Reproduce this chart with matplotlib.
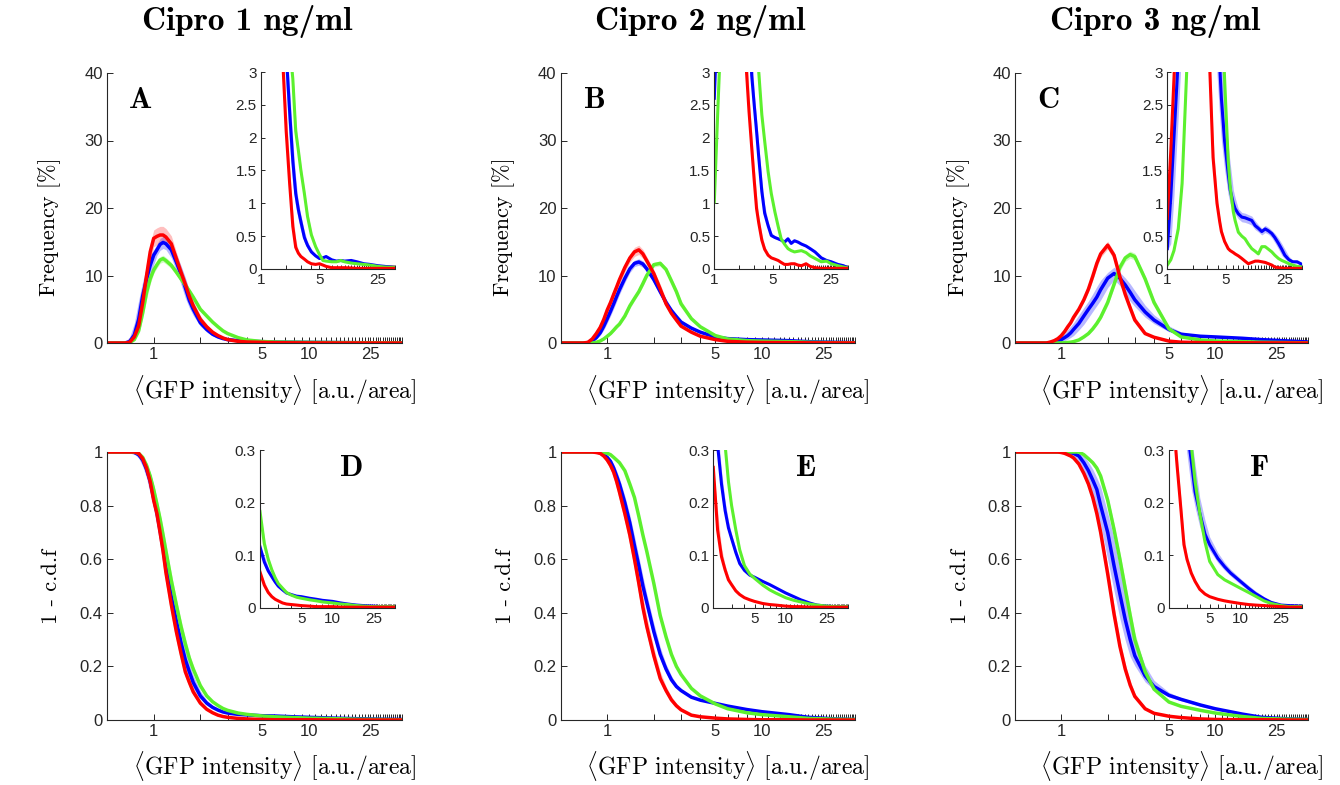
import numpy as np
import matplotlib
matplotlib.use("Agg")
import matplotlib.pyplot as plt
from matplotlib.ticker import NullLocator

plt.rcParams['mathtext.fontset'] = 'cm'
plt.rcParams['font.family'] = ['Liberation Sans', 'DejaVu Sans']

# ---------------- data ----------------
titles = ['Cipro 1 ng/ml', 'Cipro 2 ng/ml', 'Cipro 3 ng/ml']
letters = ['A', 'B', 'C', 'D', 'E', 'F']

# common x grid of the main panels (GFP intensity, a.u./area)
x_main = [0.5, 0.65, 0.7, 0.75, 0.8, 0.85, 0.9, 0.95, 1.0, 1.05, 1.1, 1.15, 1.2, 1.3, 1.4,
          1.5, 1.6, 1.7, 1.8, 2.0, 2.2, 2.4, 2.6, 2.8, 3.0, 3.5, 4, 5, 6, 8, 10, 15, 20, 30, 40]

# frequency [%] - order: blue, green, red
freq_A_blue = [0, 0, 0.2, 1.2, 3.5, 7, 9.5, 11.5, 13, 13.8, 14.6, 14.9, 14.7, 13.8, 12, 10.2, 8.2,
               6.3, 5, 3.0, 2.0, 1.3, 0.9, 0.65, 0.5, 0.35, 0.25, 0.2, 0.15, 0.12, 0.1, 0.07, 0.05, 0.03, 0.02]
freq_A_green = [0, 0, 0.05, 0.5, 1.8, 4.5, 7.5, 9.5, 10.8, 11.6, 12.3, 12.5, 12.2, 11.5, 10.5, 9.5, 8.6,
                7.7, 6.8, 5.0, 4.0, 3.1, 2.4, 1.8, 1.4, 0.8, 0.45, 0.22, 0.15, 0.12, 0.1, 0.07, 0.05, 0.03, 0.02]
freq_A_red = [0, 0, 0.1, 0.9, 2.5, 6, 10, 13.5, 15.5, 15.8, 16, 16, 15.7, 14.7, 12.5, 10.5, 8.7,
              6.9, 5.5, 3.5, 2.4, 1.6, 1.1, 0.75, 0.5, 0.25, 0.15, 0.1, 0.05, 0.03, 0.02, 0.01, 0.01, 0, 0]

freq_B_blue = [0, 0, 0, 0.05, 0.3, 0.8, 1.5, 2.5, 3.6, 4.7, 5.8, 6.9, 7.9, 9.6, 11.0, 11.8, 12.0,
               11.7, 11.0, 9.4, 7.6, 6.0, 4.8, 3.9, 3.1, 2.2, 1.6, 0.9, 0.65, 0.5, 0.45, 0.35, 0.2, 0.1, 0.05]
freq_B_green = [0, 0, 0, 0, 0, 0.1, 0.3, 0.6, 1.0, 1.4, 1.9, 2.4, 2.8, 4.0, 5.5, 6.6, 7.6,
                8.8, 10.0, 11.6, 11.8, 10.9, 9.2, 7.6, 5.8, 3.6, 2.4, 1.1, 0.6, 0.35, 0.28, 0.2, 0.12, 0.06, 0.03]
freq_B_red = [0, 0, 0, 0.1, 0.6, 1.4, 2.3, 3.5, 4.9, 6.0, 7.2, 8.3, 9.4, 11.2, 12.6, 13.5, 13.8,
              13.2, 12.2, 10.3, 8.0, 5.8, 4.4, 3.4, 2.5, 1.6, 1.0, 0.5, 0.25, 0.12, 0.08, 0.05, 0.03, 0.02, 0.01]

freq_C_blue = [0, 0, 0, 0, 0, 0.05, 0.15, 0.3, 0.5, 0.8, 1.1, 1.5, 2.0, 2.9, 4.0, 5.0, 5.9,
               6.8, 7.9, 9.6, 10.3, 9.6, 8.6, 7.5, 6.4, 4.6, 3.4, 2.0, 1.3, 1.0, 0.9, 0.7, 0.5, 0.3, 0.15]
freq_C_green = [0, 0, 0, 0, 0, 0, 0, 0, 0.02, 0.05, 0.08, 0.12, 0.2, 0.45, 0.9, 1.4, 2.1,
                2.9, 3.8, 6.0, 8.7, 11.2, 12.6, 13.1, 12.8, 9.5, 6.0, 2.1, 0.9, 0.45, 0.3, 0.2, 0.12, 0.06, 0.03]
freq_C_red = [0, 0, 0, 0, 0, 0.15, 0.35, 0.65, 1.1, 1.7, 2.4, 3.0, 3.8, 5.0, 6.4, 8.0, 9.9,
              11.8, 13.2, 14.5, 13.0, 9.8, 7.2, 5.2, 3.4, 1.4, 0.85, 0.28, 0.12, 0.06, 0.04, 0.03, 0.02, 0.01, 0]

# 1 - c.d.f
ccdf_D_blue = [1, 1, 1, 0.998, 0.99, 0.97, 0.935, 0.89, 0.83, 0.775, 0.71, 0.645, 0.575, 0.46, 0.37,
               0.29, 0.225, 0.18, 0.14, 0.09, 0.063, 0.047, 0.037, 0.03, 0.026, 0.021, 0.019, 0.016,
               0.015, 0.012, 0.01, 0.007, 0.005, 0.003, 0.002]
ccdf_D_green = [1, 1, 1, 1, 0.995, 0.98, 0.95, 0.91, 0.86, 0.805, 0.75, 0.69, 0.63, 0.52, 0.43,
                0.35, 0.285, 0.23, 0.19, 0.128, 0.09, 0.068, 0.054, 0.043, 0.036, 0.026, 0.021, 0.015,
                0.012, 0.009, 0.007, 0.005, 0.003, 0.002, 0.001]
ccdf_D_red = [1, 1, 1, 1, 0.995, 0.975, 0.94, 0.89, 0.82, 0.77, 0.7, 0.63, 0.55, 0.43, 0.33,
              0.25, 0.18, 0.14, 0.105, 0.063, 0.04, 0.027, 0.018, 0.013, 0.01, 0.006, 0.004, 0.002,
              0.001, 0.001, 0.001, 0, 0, 0, 0]

ccdf_E_blue = [1, 1, 1, 1, 1, 1, 0.997, 0.99, 0.98, 0.965, 0.94, 0.91, 0.88, 0.81, 0.735,
               0.65, 0.575, 0.5, 0.44, 0.33, 0.245, 0.19, 0.15, 0.125, 0.11, 0.085, 0.074, 0.062,
               0.052, 0.039, 0.031, 0.02, 0.01, 0.004, 0.002]
ccdf_E_green = [1, 1, 1, 1, 1, 1, 1, 0.998, 0.995, 0.99, 0.98, 0.97, 0.96, 0.93, 0.88,
                0.83, 0.76, 0.69, 0.63, 0.51, 0.39, 0.31, 0.245, 0.2, 0.17, 0.118, 0.09, 0.06,
                0.042, 0.027, 0.02, 0.012, 0.006, 0.003, 0.002]
ccdf_E_red = [1, 1, 1, 1, 1, 0.998, 0.995, 0.985, 0.97, 0.95, 0.925, 0.89, 0.85, 0.77, 0.69,
              0.6, 0.51, 0.42, 0.35, 0.24, 0.155, 0.11, 0.075, 0.053, 0.038, 0.018, 0.012, 0.007,
              0.004, 0.002, 0.001, 0.001, 0, 0, 0]

ccdf_F_blue = [1, 1, 1, 1, 1, 1, 1, 1, 1, 1, 0.998, 0.997, 0.995, 0.985, 0.96,
               0.93, 0.895, 0.86, 0.8, 0.7, 0.575, 0.47, 0.375, 0.3, 0.24, 0.165, 0.125, 0.092,
               0.077, 0.056, 0.042, 0.022, 0.01, 0.004, 0.002]
ccdf_F_green = [1, 1, 1, 1, 1, 1, 1, 1, 1, 1, 1, 1, 1, 1, 0.99,
                0.975, 0.96, 0.94, 0.91, 0.82, 0.71, 0.6, 0.49, 0.39, 0.3, 0.18, 0.115, 0.067,
                0.051, 0.036, 0.026, 0.013, 0.006, 0.003, 0.002]
ccdf_F_red = [1, 1, 1, 1, 1, 1, 1, 1, 0.998, 0.995, 0.99, 0.985, 0.978, 0.955, 0.92,
              0.88, 0.83, 0.77, 0.7, 0.545, 0.395, 0.275, 0.19, 0.13, 0.088, 0.042, 0.025, 0.014,
              0.009, 0.004, 0.002, 0.001, 0.001, 0, 0]

# insets of the frequency panels (x from 1 to 40, y 0..3)
xin_A = [1, 1.5, 1.8, 2.0, 2.2, 2.4, 2.6, 2.8, 3.0, 3.3, 3.6, 4.0, 4.5, 5.0, 5.5, 6, 7, 8, 9, 10,
         12, 14, 17, 20, 25, 30, 35, 40]
inA_blue = [12, 7, 4.2, 3.3, 2.4, 1.65, 1.15, 0.9, 0.72, 0.48, 0.36, 0.26, 0.2, 0.16, 0.17, 0.19,
            0.14, 0.12, 0.13, 0.12, 0.13, 0.11, 0.08, 0.07, 0.05, 0.04, 0.03, 0.02]
inA_green = [11, 7.5, 5, 4.2, 3.4, 2.9, 2.1, 1.8, 1.5, 1.15, 0.8, 0.52, 0.34, 0.22, 0.13, 0.12,
             0.11, 0.11, 0.13, 0.11, 0.09, 0.08, 0.07, 0.06, 0.04, 0.03, 0.025, 0.02]
inA_red = [10, 6, 3.3, 2.1, 1.3, 0.65, 0.33, 0.24, 0.19, 0.15, 0.11, 0.08, 0.07, 0.08, 0.06, 0.04,
           0.02, 0.02, 0.02, 0.02, 0.015, 0.01, 0.01, 0.01, 0.01, 0.01, 0.01, 0.01]

xin_B = [1, 1.1, 1.2, 2.0, 2.4, 2.6, 2.8, 3.0, 3.2, 3.4, 3.7, 4.0, 4.4, 4.8, 5.3, 5.8, 6.3, 6.9,
         7.6, 8.3, 9.1, 10, 11, 12.5, 14, 16, 19, 22, 25, 30, 35, 40]
inB_blue = [2.6, 4, 5.5, 11, 6, 4, 2.95, 2.5, 2.1, 1.7, 1.18, 0.85, 0.66, 0.51, 0.48, 0.46, 0.44,
            0.41, 0.46, 0.39, 0.43, 0.41, 0.38, 0.35, 0.31, 0.26, 0.17, 0.13, 0.11, 0.07, 0.05, 0.015]
inB_green = [1.02, 2.4, 3.6, 12, 11, 9, 7, 5.5, 4, 3.0, 2.35, 1.95, 1.48, 1.15, 0.87, 0.65, 0.46,
             0.38, 0.31, 0.28, 0.26, 0.27, 0.28, 0.25, 0.2, 0.16, 0.11, 0.12, 0.08, 0.05, 0.03, 0.015]
inB_red = [4.5, 6.5, 8.5, 9, 3.1, 2.4, 1.85, 1.35, 0.92, 0.7, 0.44, 0.3, 0.21, 0.17, 0.15, 0.13,
           0.1, 0.07, 0.07, 0.08, 0.08, 0.06, 0.05, 0.08, 0.04, 0.02, 0.01, 0.01, 0.01, 0.01, 0.01, 0.01]

xin_C = [1, 1.1, 1.2, 1.35, 1.5, 1.7, 2.5, 3.2, 3.5, 3.9, 4.2, 4.4, 4.8, 5.3, 5.6, 6.1, 6.4, 7.0,
         7.7, 8.4, 9.2, 10.1, 11.1, 12.1, 13.3, 14.6, 16, 17.5, 19, 21, 23, 25, 28, 31, 35, 40]
inC_blue = [0.31, 1.1, 2.0, 3.2, 4.8, 7, 10, 8, 6, 4.2, 3.1, 2.6, 1.95, 1.45, 1.2, 1.0, 0.92, 0.84,
            0.79, 0.78, 0.76, 0.74, 0.66, 0.62, 0.57, 0.61, 0.58, 0.54, 0.48, 0.39, 0.3, 0.21, 0.14,
            0.11, 0.11, 0.07]
inC_green = [0.06, 0.14, 0.28, 0.61, 1.3, 3.0, 11, 12, 10, 7, 5, 4.2, 2.9, 1.65, 1.25, 0.87, 0.74,
             0.56, 0.5, 0.46, 0.38, 0.31, 0.27, 0.23, 0.34, 0.34, 0.3, 0.26, 0.21, 0.16, 0.13, 0.11,
             0.08, 0.06, 0.04, 0.03]
inC_red = [0.77, 1.8, 2.9, 4.5, 6.5, 11, 9, 3.05, 1.7, 1.0, 0.72, 0.57, 0.42, 0.31, 0.28, 0.25,
           0.23, 0.2, 0.16, 0.12, 0.08, 0.1, 0.12, 0.12, 0.11, 0.1, 0.08, 0.06, 0.03, 0.02, 0.015,
           0.01, 0.01, 0.01, 0.01, 0.01]

# insets of the 1 - c.d.f panels (x from 2 to 40, y 0..0.3)
xin_cdf = [2, 2.2, 2.4, 2.6, 2.8, 3.0, 3.3, 3.6, 4.0, 4.5, 5, 6, 7, 8, 10, 12, 14, 17, 20, 25, 30, 40]
inD_blue = [0.116, 0.087, 0.07, 0.059, 0.049, 0.041, 0.034, 0.028, 0.025, 0.022, 0.021, 0.018,
            0.016, 0.014, 0.012, 0.009, 0.007, 0.005, 0.004, 0.003, 0.002, 0.002]
inD_green = [0.183, 0.122, 0.092, 0.072, 0.057, 0.046, 0.037, 0.029, 0.024, 0.02, 0.018, 0.015,
             0.013, 0.011, 0.009, 0.007, 0.006, 0.004, 0.003, 0.002, 0.002, 0.002]
inD_red = [0.068, 0.043, 0.029, 0.021, 0.016, 0.013, 0.009, 0.007, 0.006, 0.005, 0.004, 0.003,
           0.002, 0.002, 0.002, 0.001, 0.001, 0.001, 0.001, 0.001, 0.001, 0.001]

inE_blue = [0.42, 0.31, 0.235, 0.185, 0.152, 0.132, 0.105, 0.084, 0.071, 0.062, 0.058, 0.05,
            0.044, 0.038, 0.028, 0.021, 0.015, 0.009, 0.005, 0.003, 0.002, 0.002]
inE_green = [0.6, 0.48, 0.38, 0.31, 0.24, 0.195, 0.148, 0.11, 0.08, 0.064, 0.056, 0.043,
             0.034, 0.028, 0.019, 0.014, 0.011, 0.007, 0.005, 0.003, 0.002, 0.002]
inE_red = [0.267, 0.148, 0.097, 0.072, 0.053, 0.044, 0.032, 0.025, 0.019, 0.015, 0.012, 0.008,
           0.006, 0.005, 0.003, 0.002, 0.002, 0.001, 0.001, 0.001, 0.001, 0.001]

inF_blue = [0.75, 0.65, 0.55, 0.47, 0.4, 0.34, 0.28, 0.22, 0.18, 0.14, 0.12, 0.094, 0.078,
            0.066, 0.05, 0.037, 0.027, 0.017, 0.01, 0.005, 0.004, 0.003]
inF_green = [0.85, 0.74, 0.62, 0.52, 0.44, 0.37, 0.31, 0.24, 0.18, 0.125, 0.088, 0.063, 0.053,
             0.047, 0.037, 0.029, 0.022, 0.013, 0.008, 0.004, 0.002, 0.002]
inF_red = [0.5, 0.36, 0.27, 0.193, 0.12, 0.092, 0.066, 0.05, 0.035, 0.026, 0.021, 0.016, 0.013,
           0.011, 0.008, 0.006, 0.005, 0.004, 0.003, 0.002, 0.001, 0.001]

# spread of the shaded bands (x factor, y fraction) for blue, green, red
spread = {
    'A': [(1.05, 0.06), (1.02, 0.04), (1.03, 0.08)],
    'B': [(1.03, 0.04), (1.02, 0.03), (1.03, 0.05)],
    'C': [(1.09, 0.09), (1.02, 0.04), (1.02, 0.04)],
    'D': [(1.04, 0.0), (1.02, 0.0), (1.03, 0.0)],
    'E': [(1.03, 0.0), (1.01, 0.0), (1.03, 0.0)],
    'F': [(1.08, 0.0), (1.02, 0.0), (1.02, 0.0)],
}

panels = {
    'A': (freq_A_blue, freq_A_green, freq_A_red, xin_A, inA_blue, inA_green, inA_red),
    'B': (freq_B_blue, freq_B_green, freq_B_red, xin_B, inB_blue, inB_green, inB_red),
    'C': (freq_C_blue, freq_C_green, freq_C_red, xin_C, inC_blue, inC_green, inC_red),
    'D': (ccdf_D_blue, ccdf_D_green, ccdf_D_red, xin_cdf, inD_blue, inD_green, inD_red),
    'E': (ccdf_E_blue, ccdf_E_green, ccdf_E_red, xin_cdf, inE_blue, inE_green, inE_red),
    'F': (ccdf_F_blue, ccdf_F_green, ccdf_F_red, xin_cdf, inF_blue, inF_green, inF_red),
}

colors = ['#0000ff', '#5cf02e', '#ff0000']
band_alpha = [0.28, 0.3, 0.25]
axis_col = '#262626'

W, H = 1340, 785
fig = plt.figure(figsize=(W / 100, H / 100), dpi=100)


def band(x, y, k, f):
    lx = np.log10(x)
    y = np.asarray(y, float)
    ya = np.interp(lx - np.log10(k), lx, y)
    yb = np.interp(lx + np.log10(k), lx, y)
    lo = np.minimum.reduce([ya, yb, y * (1 - f)])
    hi = np.maximum.reduce([ya, yb, y * (1 + f)])
    return lo, hi


def style_axis(ax, xticks, xlabels, yticks, ylabels, size, ticklen):
    ax.set_xscale('log')
    ax.xaxis.set_minor_locator(NullLocator())
    ax.set_xticks(xticks)
    ax.set_xticklabels(xlabels)
    ax.set_yticks(yticks)
    ax.set_yticklabels(ylabels)
    for s in ['top', 'right']:
        ax.spines[s].set_visible(False)
    for s in ['left', 'bottom']:
        ax.spines[s].set_color(axis_col)
        ax.spines[s].set_linewidth(0.8)
    ax.tick_params(direction='in', length=ticklen, width=0.7, colors=axis_col,
                   labelsize=size, pad=3)


def draw_curves(ax, x, ys, spr, lw):
    x = np.asarray(x, float)
    for (y, c, a, (k, f)) in zip(ys, colors, band_alpha, spr):
        lo, hi = band(x, y, k, f)
        ax.fill_between(x, lo, hi, color=c, alpha=a, lw=0)
    for (y, c) in zip(ys, colors):
        ax.plot(x, y, color=c, lw=lw, solid_joinstyle='round')


def px_rect(left, top, right, bottom):
    return [left / W, 1 - bottom / H, (right - left) / W, (bottom - top) / H]


main_lefts = [107, 560.7, 1015]
main_rights = [402, 855, 1308]
inset_top_lr = [(261, 395), (714.3, 848.3), (1167.3, 1302)]
inset_bot_lr = [(260, 395), (713.3, 848), (1169, 1302)]

int_ticks = list(range(1, 41))
main_xlabels = [str(t) if t in (1, 5, 10, 25) else '' for t in int_ticks]
top_in_xlabels = [str(t) if t in (1, 5, 25) else '' for t in int_ticks]
bot_in_ticks = list(range(2, 41))
bot_in_xlabels = [str(t) if t in (5, 10, 25) else '' for t in bot_in_ticks]

xlab = r'$\langle$GFP intensity$\rangle$ [a.u./area]'

for i, L in enumerate(letters):
    col = i % 3
    top_row = i < 3
    yb, yg, yr, xin, ib, ig, ir = panels[L]

    if top_row:
        ax = fig.add_axes(px_rect(main_lefts[col], 73, main_rights[col], 343))
        draw_curves(ax, x_main, [yb, yg, yr], spread[L], 2.5)
        ax.set_ylim(0, 40)
        style_axis(ax, int_ticks, main_xlabels, [0, 10, 20, 30, 40],
                   ['0', '10', '20', '30', '40'], 12, 4)
        ax.set_ylabel('Frequency [%]', fontfamily='cmr10', fontsize=16)
        ax.yaxis.set_label_coords(-0.155, 0.43)
        ax.text(0.115, 0.9, L, transform=ax.transAxes, fontfamily='cmb10', fontsize=22,
                ha='center', va='center')
    else:
        ax = fig.add_axes(px_rect(main_lefts[col], 452, main_rights[col], 720))
        draw_curves(ax, x_main, [yb, yg, yr], spread[L], 2.5)
        ax.set_ylim(0, 1)
        style_axis(ax, int_ticks, main_xlabels, [0, 0.2, 0.4, 0.6, 0.8, 1],
                   ['0', '0.2', '0.4', '0.6', '0.8', '1'], 12, 4)
        ax.set_ylabel('1 - c.d.f', fontfamily='cmr10', fontsize=16)
        ax.yaxis.set_label_coords(-0.155, 0.5)
    ax.set_xlim(0.5, 40)
    ax.set_xlabel(xlab, fontfamily='cmr10', fontsize=17)
    ax.xaxis.set_label_coords(0.568, -0.11)

    # inset
    if top_row:
        l, r = inset_top_lr[col]
        axi = fig.add_axes(px_rect(l, 72, r, 269))
        draw_curves(axi, xin, [ib, ig, ir], spread[L], 2.2)
        axi.set_xlim(1, 40)
        axi.set_ylim(0, 3)
        style_axis(axi, int_ticks, top_in_xlabels, [0, 0.5, 1, 1.5, 2, 2.5, 3],
                   ['0', '0.5', '1', '1.5', '2', '2.5', '3'], 11, 3)
    else:
        l, r = inset_bot_lr[col]
        axi = fig.add_axes(px_rect(l, 450, r, 607.7))
        draw_curves(axi, xin, [ib, ig, ir], spread[L], 2.2)
        axi.set_xlim(2, 40)
        axi.set_ylim(0, 0.3)
        style_axis(axi, bot_in_ticks, bot_in_xlabels, [0, 0.1, 0.2, 0.3],
                   ['0', '0.1', '0.2', '0.3'], 11, 3)
        lx = [352, 806, 1260][col]
        fig.text(lx / W, 1 - 468 / H, L, fontfamily='cmb10', fontsize=22,
                 ha='center', va='center')
    axi.set_facecolor('white')

for col, t in enumerate(titles):
    cx = [247.5, 700, 1155][col]
    fig.text(cx / W, 1 - 21 / H, t, fontfamily='cmb10', fontsize=24,
             ha='center', va='center')

fig.savefig('out.png', dpi=100)
